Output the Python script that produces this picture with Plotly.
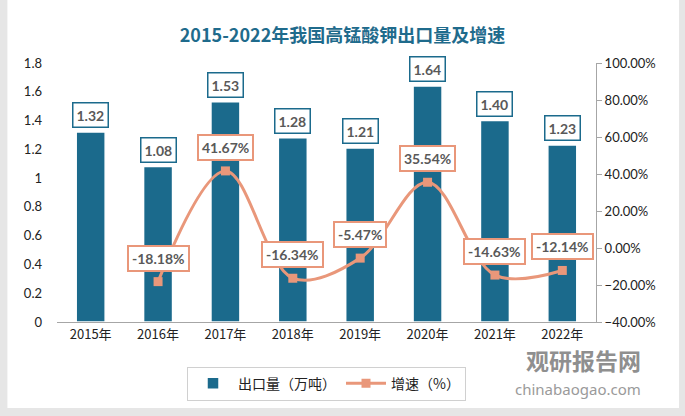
import plotly.graph_objects as go

years = ["2015年", "2016年", "2017年", "2018年", "2019年", "2020年", "2021年", "2022年"]
export_vol = [1.32, 1.08, 1.53, 1.28, 1.21, 1.64, 1.40, 1.23]
growth_years = years[1:]
growth = [-18.18, 41.67, -16.34, -5.47, 35.54, -14.63, -12.14]

BAR = "#1B6A8C"
LINE = "#E9977A"

fig = go.Figure()
fig.add_trace(go.Bar(
    x=years, y=export_vol, name="出口量（万吨）",
    marker=dict(color=BAR, line=dict(color="white", width=1.5)),
    width=0.43, yaxis="y",
))
fig.add_trace(go.Scatter(
    x=growth_years, y=growth, name="增速（%）", yaxis="y2",
    mode="lines+markers",
    line=dict(color=LINE, width=3, shape="spline", smoothing=1.0),
    marker=dict(symbol="square", size=9, color=LINE),
))

ann = []
for x, v in zip(years, export_vol):
    ann.append(dict(x=x, y=v, xref="x", yref="y", text=f"<b>{v:.2f}</b>",
                    showarrow=False, yanchor="bottom", yshift=4,
                    font=dict(family="Lato, Noto Sans", size=14, color="#595959"),
                    bgcolor="white", bordercolor=BAR, borderwidth=1.5, borderpad=3))
for x, v in zip(growth_years, growth):
    ann.append(dict(x=x, y=v, xref="x", yref="y2", text=f"<b>{v:.2f}%</b>",
                    showarrow=False, yanchor="bottom", yshift=10,
                    font=dict(family="Lato, Noto Sans", size=14, color="#595959"),
                    bgcolor="white", bordercolor=LINE, borderwidth=2, borderpad=3))

# watermark
ann.append(dict(x=1.087, y=-0.148, xref="paper", yref="paper", text="<b>观研报告网</b>",
                showarrow=False, xanchor="right", yanchor="middle",
                font=dict(family="Noto Sans CJK SC", size=23, color="#8f8f8f")))
ann.append(dict(x=1.087, y=-0.26, xref="paper", yref="paper", text="chinabaogao.com",
                showarrow=False, xanchor="right", yanchor="middle",
                font=dict(family="Noto Sans", size=15, color="#9a9a9a")))

fig.update_layout(
    width=685, height=416,
    margin=dict(l=57, r=89, t=63, b=94, autoexpand=False),
    paper_bgcolor="#e6e6e6",
    plot_bgcolor="#efefef",
    title=dict(text="<b>2015-2022年我国高锰酸钾出口量及增速</b>", x=0.5, xanchor="center",
               y=0.915, yanchor="middle",
               font=dict(family="Noto Sans CJK SC", size=18, color="#1F6B8C")),
    xaxis=dict(showgrid=False, showline=True, linecolor="#a6a6a6", linewidth=1,
               ticks="", tickfont=dict(family="Noto Sans CJK SC", size=13, color="#222")),
    yaxis=dict(range=[0, 1.8], dtick=0.2, showgrid=False, zeroline=False,
               tickfont=dict(family="Lato, Noto Sans", size=13, color="#222"),
               ticklabelstandoff=14),
    yaxis2=dict(range=[-40, 100], dtick=20, overlaying="y", side="right",
                showgrid=False, zeroline=False, showline=True, linecolor="#a6a6a6",
                ticks="outside", tickcolor="#a6a6a6", ticklen=5,
                ticksuffix=".00%", tickfont=dict(family="Lato, Noto Sans", size=13, color="#222")),
    legend=dict(orientation="h", x=0.5, xanchor="center", xref="paper",
                y=0.078, yanchor="middle", yref="container",
                bordercolor="#d0d0d0", borderwidth=1, bgcolor="white",
                font=dict(family="Noto Sans CJK SC", size=14, color="#222"),
                itemwidth=40),
    annotations=ann,
    shapes=[dict(type="rect", xref="paper", yref="paper", x0=-0.092, x1=1.154,
                 y0=-0.332, y1=1.25, fillcolor="white", line=dict(width=0), layer="below")],
    showlegend=True,
)

fig.write_html("out.html", config={"displayModeBar": False},
               post_script="document.body.style.margin='0';document.body.style.padding='0';")
